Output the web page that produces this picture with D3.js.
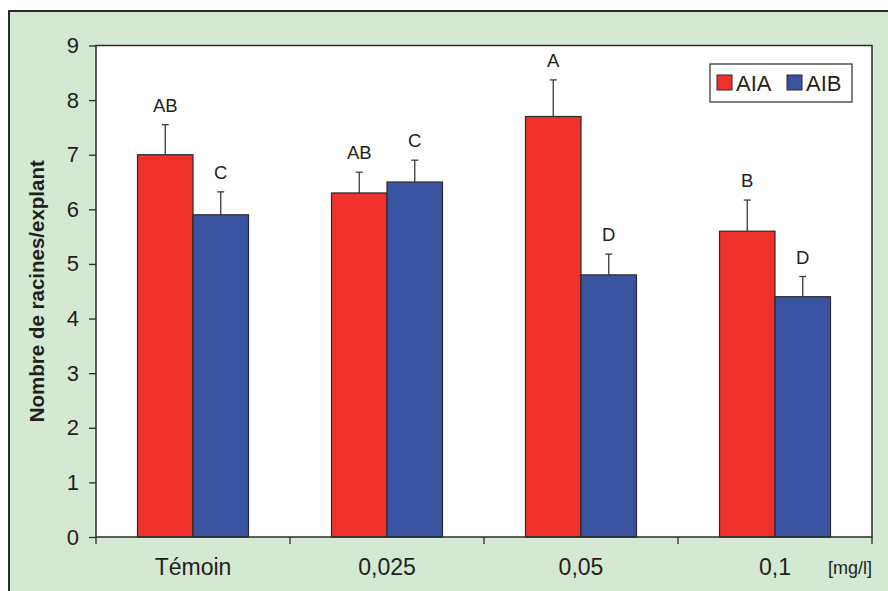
<!DOCTYPE html>
<html>
<head>
<meta charset="utf-8">
<script src="https://cdnjs.cloudflare.com/ajax/libs/d3/7.8.5/d3.min.js"></script>
<style>
  body { margin: 0; background: #fff; }
  text { font-family: "Liberation Sans", Arial, Helvetica, sans-serif; fill: #231f20; }
</style>
</head>
<body>
<div id="chart"></div>
<script>
var categories = ['Témoin', '0,025', '0,05', '0,1'];
var series = ['AIA', 'AIB'];
var aiaValues = [7.0, 6.3, 7.7, 5.6];
var aibValues = [5.9, 6.5, 4.8, 4.4];
var aiaErrors = [0.55, 0.38, 0.67, 0.57];
var aibErrors = [0.42, 0.40, 0.38, 0.37];
var aiaLetters = ['AB', 'AB', 'A', 'B'];
var aibLetters = ['C', 'C', 'D', 'D'];
var yTicks = [0, 1, 2, 3, 4, 5, 6, 7, 8, 9];

var width = 888, height = 591;
var colors = { AIA: '#ee312b', AIB: '#3a53a1' };
var margin = { left: 96, top: 45.5, right: 16, bottom: 54 };
var plotW = width - margin.left - margin.right;
var plotH = height - margin.top - margin.bottom;

var svg = d3.select('#chart').append('svg')
  .attr('width', width)
  .attr('height', height);

// green frame
svg.append('rect')
  .attr('x', 9).attr('y', 11)
  .attr('width', width).attr('height', height)
  .attr('fill', '#d4e8d3')
  .attr('stroke', '#2b2b2b')
  .attr('stroke-width', 2);

var g = svg.append('g').attr('transform', 'translate(' + margin.left + ',' + margin.top + ')');

var x = d3.scaleBand().domain(categories).range([0, plotW]);
var xInner = d3.scaleBand().domain(series).range([x.bandwidth() / 2 - 55.5, x.bandwidth() / 2 + 55.5]);
var y = d3.scaleLinear().domain([0, 9]).range([plotH, 0]);

g.append('rect')
  .attr('width', plotW).attr('height', plotH)
  .attr('fill', '#fff');

// data rows
var rows = categories.map(function(c, i) {
  return [
    { cat: c, s: 'AIA', v: aiaValues[i], e: aiaErrors[i], l: aiaLetters[i] },
    { cat: c, s: 'AIB', v: aibValues[i], e: aibErrors[i], l: aibLetters[i] }
  ];
}).flat();

var bar = g.selectAll('.bar')
  .data(rows)
  .enter()
  .append('g')
  .attr('transform', function(d) { return 'translate(' + (x(d.cat) + xInner(d.s)) + ',0)'; });

bar.append('line')
  .attr('x1', xInner.bandwidth() / 2).attr('x2', xInner.bandwidth() / 2)
  .attr('y1', function(d) { return y(d.v); })
  .attr('y2', function(d) { return y(d.v + d.e); })
  .attr('stroke', '#3a3a3a').attr('stroke-width', 1.3);

bar.append('line')
  .attr('x1', xInner.bandwidth() / 2 - 3.5).attr('x2', xInner.bandwidth() / 2 + 3.5)
  .attr('y1', function(d) { return y(d.v + d.e); })
  .attr('y2', function(d) { return y(d.v + d.e); })
  .attr('stroke', '#3a3a3a').attr('stroke-width', 1.3);

bar.append('rect')
  .attr('y', function(d) { return y(d.v); })
  .attr('width', xInner.bandwidth())
  .attr('height', function(d) { return plotH - y(d.v); })
  .attr('fill', function(d) { return colors[d.s]; })
  .attr('stroke', '#2b2b2b')
  .attr('stroke-width', 1.2);

bar.append('text')
  .attr('x', xInner.bandwidth() / 2)
  .attr('y', function(d) { return y(d.v + d.e) - 13; })
  .attr('text-anchor', 'middle')
  .attr('font-size', 18.5)
  .text(function(d) { return d.l; });

// plot border
g.append('rect')
  .attr('width', plotW).attr('height', plotH)
  .attr('fill', 'none')
  .attr('stroke', '#2b2b2b')
  .attr('stroke-width', 1.5);

// axes
var yAxis = g.append('g')
  .call(d3.axisLeft(y).tickValues(yTicks).tickSize(7).tickPadding(10));
yAxis.select('.domain').remove();
yAxis.selectAll('line').attr('stroke', '#2b2b2b').attr('stroke-width', 1.3);
yAxis.selectAll('text').attr('font-size', 22).attr('fill', '#231f20').attr('font-family', null);

var xAxis = g.append('g')
  .attr('transform', 'translate(0,' + plotH + ')');
xAxis.selectAll('line')
  .data(d3.range(categories.length + 1))
  .enter()
  .append('line')
  .attr('x1', function(i) { return i * x.step(); })
  .attr('x2', function(i) { return i * x.step(); })
  .attr('y1', 0).attr('y2', 7)
  .attr('stroke', '#2b2b2b').attr('stroke-width', 1.3);
xAxis.selectAll('text')
  .data(categories)
  .enter()
  .append('text')
  .attr('x', function(d) { return x(d) + x.bandwidth() / 2; })
  .attr('y', 38)
  .attr('text-anchor', 'middle')
  .attr('font-size', 23)
  .text(function(d) { return d; });

g.append('text')
  .attr('x', plotW)
  .attr('y', 37)
  .attr('transform', 'translate(0,' + plotH + ')')
  .attr('text-anchor', 'end')
  .attr('font-size', 18)
  .text('[mg/l]');

// y title
svg.append('text')
  .attr('transform', 'translate(44,' + (margin.top + plotH / 2) + ') rotate(-90)')
  .attr('text-anchor', 'middle')
  .attr('font-size', 20.5)
  .attr('font-weight', 'bold')
  .text('Nombre de racines/explant');

// legend
var legend = svg.append('g').attr('transform', 'translate(710,64)');
legend.append('rect')
  .attr('width', 142).attr('height', 38)
  .attr('fill', '#fff')
  .attr('stroke', '#2b2b2b').attr('stroke-width', 1.2);
var item = legend.selectAll('.item')
  .data(series)
  .enter()
  .append('g')
  .attr('transform', function(d, i) { return 'translate(' + (7 + i * 70) + ',11)'; });
item.append('rect')
  .attr('width', 15).attr('height', 15)
  .attr('fill', function(d) { return colors[d]; })
  .attr('stroke', '#2b2b2b').attr('stroke-width', 1);
item.append('text')
  .attr('x', 19).attr('y', 15.5)
  .attr('font-size', 22)
  .text(function(d) { return d; });
</script>
</body>
</html>
